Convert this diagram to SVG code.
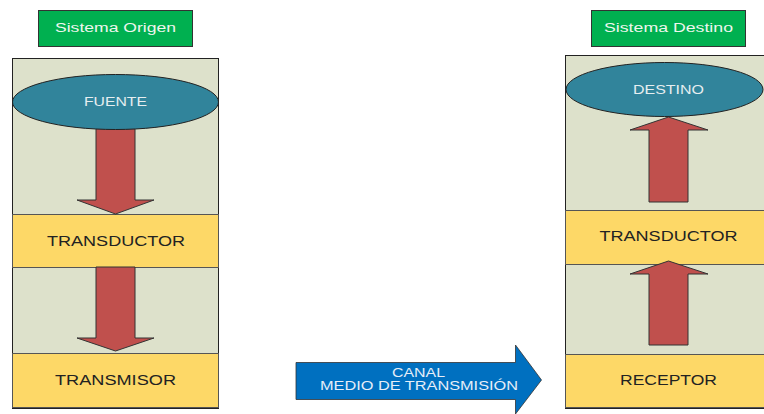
<svg xmlns="http://www.w3.org/2000/svg" width="764" height="414" viewBox="0 0 764 414">
<style>
.lbl{font-family:"Liberation Sans",Arial,sans-serif;text-anchor:middle}
.green{fill:#00b050;stroke:#333;stroke-width:1}
.gt{fill:#eef6ee;font-size:12.5px}
.panel{fill:#dde1cb;stroke:#222;stroke-width:1}
.ell{fill:#31849b;stroke:#222;stroke-width:1}
.et{fill:#e6eef0;font-size:12px}
.yel{fill:#fdd867;stroke:#555;stroke-width:1}
.yt{fill:#222;font-size:14px}
.red{fill:#c0504d;stroke:#333;stroke-width:1}
.blue{fill:#0070c0;stroke:#333;stroke-width:0.8}
.bt{fill:#e6eef8;font-size:12.5px}
</style>
<rect x="0" y="0" width="764" height="414" fill="#ffffff"/>
<g id="origen-panel"><rect class="panel" x="12.5" y="58.5" width="206" height="350"/></g>
<g id="destino-panel"><rect class="panel" x="565.5" y="55.5" width="204" height="353"/></g>
<g id="sistema-origen"><rect class="green" x="38.5" y="10.5" width="154" height="36"/><text class="lbl gt" x="115.5" y="31.5" textLength="121" lengthAdjust="spacingAndGlyphs">Sistema Origen</text></g>
<g id="sistema-destino"><rect class="green" x="591.5" y="10.5" width="154" height="36"/><text class="lbl gt" x="668.5" y="31.5" textLength="129" lengthAdjust="spacingAndGlyphs">Sistema Destino</text></g>
<g id="transductor-origen"><rect class="yel" x="12.5" y="214.5" width="206" height="53"/><text class="lbl yt" x="116" y="245.5" textLength="138" lengthAdjust="spacingAndGlyphs">TRANSDUCTOR</text></g>
<g id="transmisor"><rect class="yel" x="12.5" y="353.5" width="206" height="54"/><text class="lbl yt" x="115.5" y="384.5" textLength="121" lengthAdjust="spacingAndGlyphs">TRANSMISOR</text></g>
<g id="transductor-destino"><rect class="yel" x="565.5" y="210.5" width="204" height="54"/><text class="lbl yt" x="668.5" y="241" textLength="138" lengthAdjust="spacingAndGlyphs">TRANSDUCTOR</text></g>
<g id="receptor"><rect class="yel" x="565.5" y="354.5" width="204" height="53"/><text class="lbl yt" x="668.5" y="384.5" textLength="97" lengthAdjust="spacingAndGlyphs">RECEPTOR</text></g>
<g id="connectors">
<polygon class="red" points="96,128 135,128 135,200 154,200 115.5,214 77,200 96,200"/>
<polygon class="red" points="96,267 135,267 135,338 154,338 115.5,351 77,338 96,338"/>
<polygon class="red" points="649,202 688,202 688,130 708,130 668.5,117 630,130 649,130"/>
<polygon class="red" points="649,345 688,345 688,274 708,274 668.5,261 630,274 649,274"/>
<polygon class="blue" points="296,362.5 515.5,362.5 515.5,345 541.5,380 515.5,414 515.5,399.5 296,399.5"/>
<text class="lbl bt" x="418.5" y="377" textLength="53" lengthAdjust="spacingAndGlyphs">CANAL</text>
<text class="lbl bt" x="419" y="390" textLength="198" lengthAdjust="spacingAndGlyphs">MEDIO DE TRANSMISIÓN</text>
</g>
<g id="fuente"><ellipse class="ell" cx="115.5" cy="102" rx="103" ry="27.5"/><text class="lbl et" x="115.5" y="106" textLength="63" lengthAdjust="spacingAndGlyphs">FUENTE</text></g>
<g id="destino"><ellipse class="ell" cx="664.5" cy="89.5" rx="98.5" ry="27"/><text class="lbl et" x="668.5" y="93.5" textLength="71" lengthAdjust="spacingAndGlyphs">DESTINO</text></g>
</svg>
